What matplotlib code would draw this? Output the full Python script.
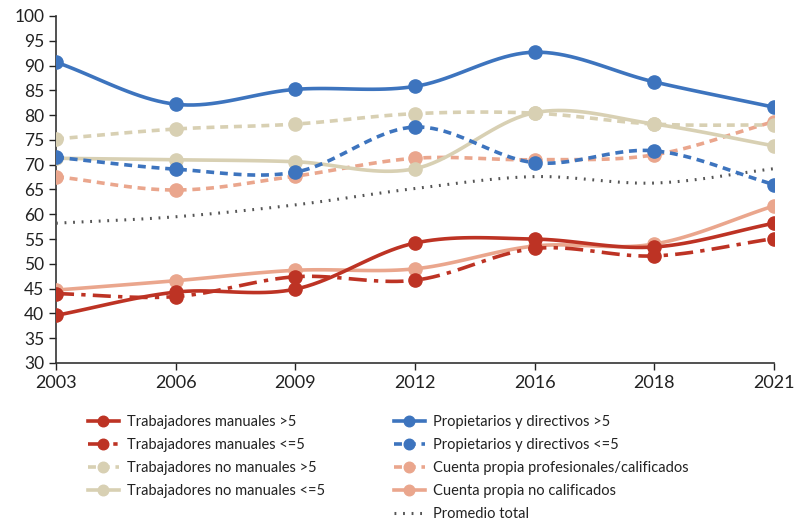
import numpy as np
import matplotlib
matplotlib.use("Agg")
import matplotlib.pyplot as plt

plt.rcParams["font.family"] = ["Lato", "DejaVu Sans"]

years = ["2003", "2006", "2009", "2012", "2016", "2018", "2021"]

man_gt5 = [39.6, 44.3, 44.9, 54.2, 55.0, 53.4, 58.2]
man_le5 = [44.0, 43.4, 47.4, 46.7, 53.1, 51.6, 55.1]
nonman_gt5 = [75.2, 77.2, 78.2, 80.3, 80.4, 78.2, 78.0]
nonman_le5 = [71.3, 71.0, 70.6, 69.2, 80.5, 78.2, 73.8]
prop_gt5 = [90.7, 82.2, 85.2, 85.8, 92.7, 86.7, 81.6]
prop_le5 = [71.5, 69.1, 68.5, 77.6, 70.4, 72.8, 66.0]
cp_prof = [67.6, 64.9, 67.7, 71.3, 71.0, 72.0, 78.7]
cp_nocal = [44.7, 46.6, 48.7, 49.0, 53.6, 54.0, 61.7]
promedio = [58.2, 59.5, 61.9, 65.2, 67.6, 66.3, 69.2]

RED = "#BD3324"
BLUE = "#3D74BE"
BEIGE = "#D8D0B3"
SALMON = "#EAA68D"
GRAY = "#555555"

STEPS = 20


def smooth(y):
    # cardinal spline through the points, only used for drawing the curve
    y = np.asarray(y, dtype=float)
    n = len(y)
    t = np.zeros(n)
    for i in range(n):
        a = y[max(i - 1, 0)]
        b = y[min(i + 1, n - 1)]
        t[i] = (b - a) / (min(i + 1, n - 1) - max(i - 1, 0))
    xs, ys = [], []
    for i in range(n - 1):
        s = np.linspace(0, 1, STEPS, endpoint=False)
        h00 = 2 * s**3 - 3 * s**2 + 1
        h10 = s**3 - 2 * s**2 + s
        h01 = -2 * s**3 + 3 * s**2
        h11 = s**3 - s**2
        xs.extend(i + s)
        ys.extend(h00 * y[i] + h10 * t[i] + h01 * y[i + 1] + h11 * t[i + 1])
    xs.append(n - 1)
    ys.append(y[-1])
    return np.array(xs), np.array(ys)


fig = plt.figure(figsize=(7.98, 5.25), dpi=100)
ax = fig.add_axes([56 / 798, 1 - 363 / 525, (774 - 56) / 798, (363 - 16) / 525])

series = [
    ("Trabajadores manuales >5", man_gt5, RED, "-", True),
    ("Trabajadores manuales <=5", man_le5, RED, (0, (5, 2, 1.2, 2)), True),
    ("Trabajadores no manuales >5", nonman_gt5, BEIGE, (0, (2.2, 1.6)), True),
    ("Trabajadores no manuales <=5", nonman_le5, BEIGE, "-", True),
    ("Propietarios y directivos >5", prop_gt5, BLUE, "-", True),
    ("Propietarios y directivos <=5", prop_le5, BLUE, (0, (2.2, 1.6)), True),
    ("Cuenta propia profesionales/calificados", cp_prof, SALMON, (0, (2.2, 1.6)), True),
    ("Cuenta propia no calificados", cp_nocal, SALMON, "-", True),
    ("Promedio total", promedio, GRAY, (0, (0.6, 2.2)), False),
]

draw_order = [8, 7, 6, 3, 2, 5, 1, 0, 4]
handles = {}
for k in draw_order:
    label, vals, color, ls, mark = series[k]
    xs, ys = smooth(vals)
    if mark:
        line, = ax.plot(xs, ys, color=color, linestyle=ls, lw=2.6,
                        marker="o", markersize=9.5, markevery=STEPS,
                        label=label, zorder=3)
    else:
        line, = ax.plot(xs, ys, color=color, linestyle=ls, lw=2.2,
                        label=label, zorder=3)
    handles[k] = line

ax.set_xlim(0, len(years) - 1)
ax.set_ylim(30, 100)
ax.set_xticks(range(len(years)))
ax.set_xticklabels(years)
ax.set_yticks(np.arange(30, 101, 5))
ax.tick_params(labelsize=12.5, colors="#222222", length=5, width=1)
ax.spines["top"].set_visible(False)
ax.spines["right"].set_visible(False)
for s in ("left", "bottom"):
    ax.spines[s].set_color("#333333")
    ax.spines[s].set_linewidth(1.2)
for lab in ax.get_xticklabels():
    lab.set_fontsize(13)

leg_kw = dict(frameon=False, fontsize=10.5, handlelength=2.1, handletextpad=0.6,
              labelspacing=0.62, borderaxespad=0, borderpad=0, loc="upper left",
              markerscale=0.8)
leg1 = fig.legend([handles[i] for i in range(4)], [series[i][0] for i in range(4)],
                  bbox_to_anchor=(88 / 798, 1 - 415 / 525), **leg_kw)
leg2 = fig.legend([handles[i] for i in range(4, 9)], [series[i][0] for i in range(4, 9)],
                  bbox_to_anchor=(394 / 798, 1 - 415 / 525), **leg_kw)
for leg in (leg1, leg2):
    for txt in leg.get_texts():
        txt.set_color("#222222")

fig.savefig("out.png", dpi=100)
plt.close(fig)
